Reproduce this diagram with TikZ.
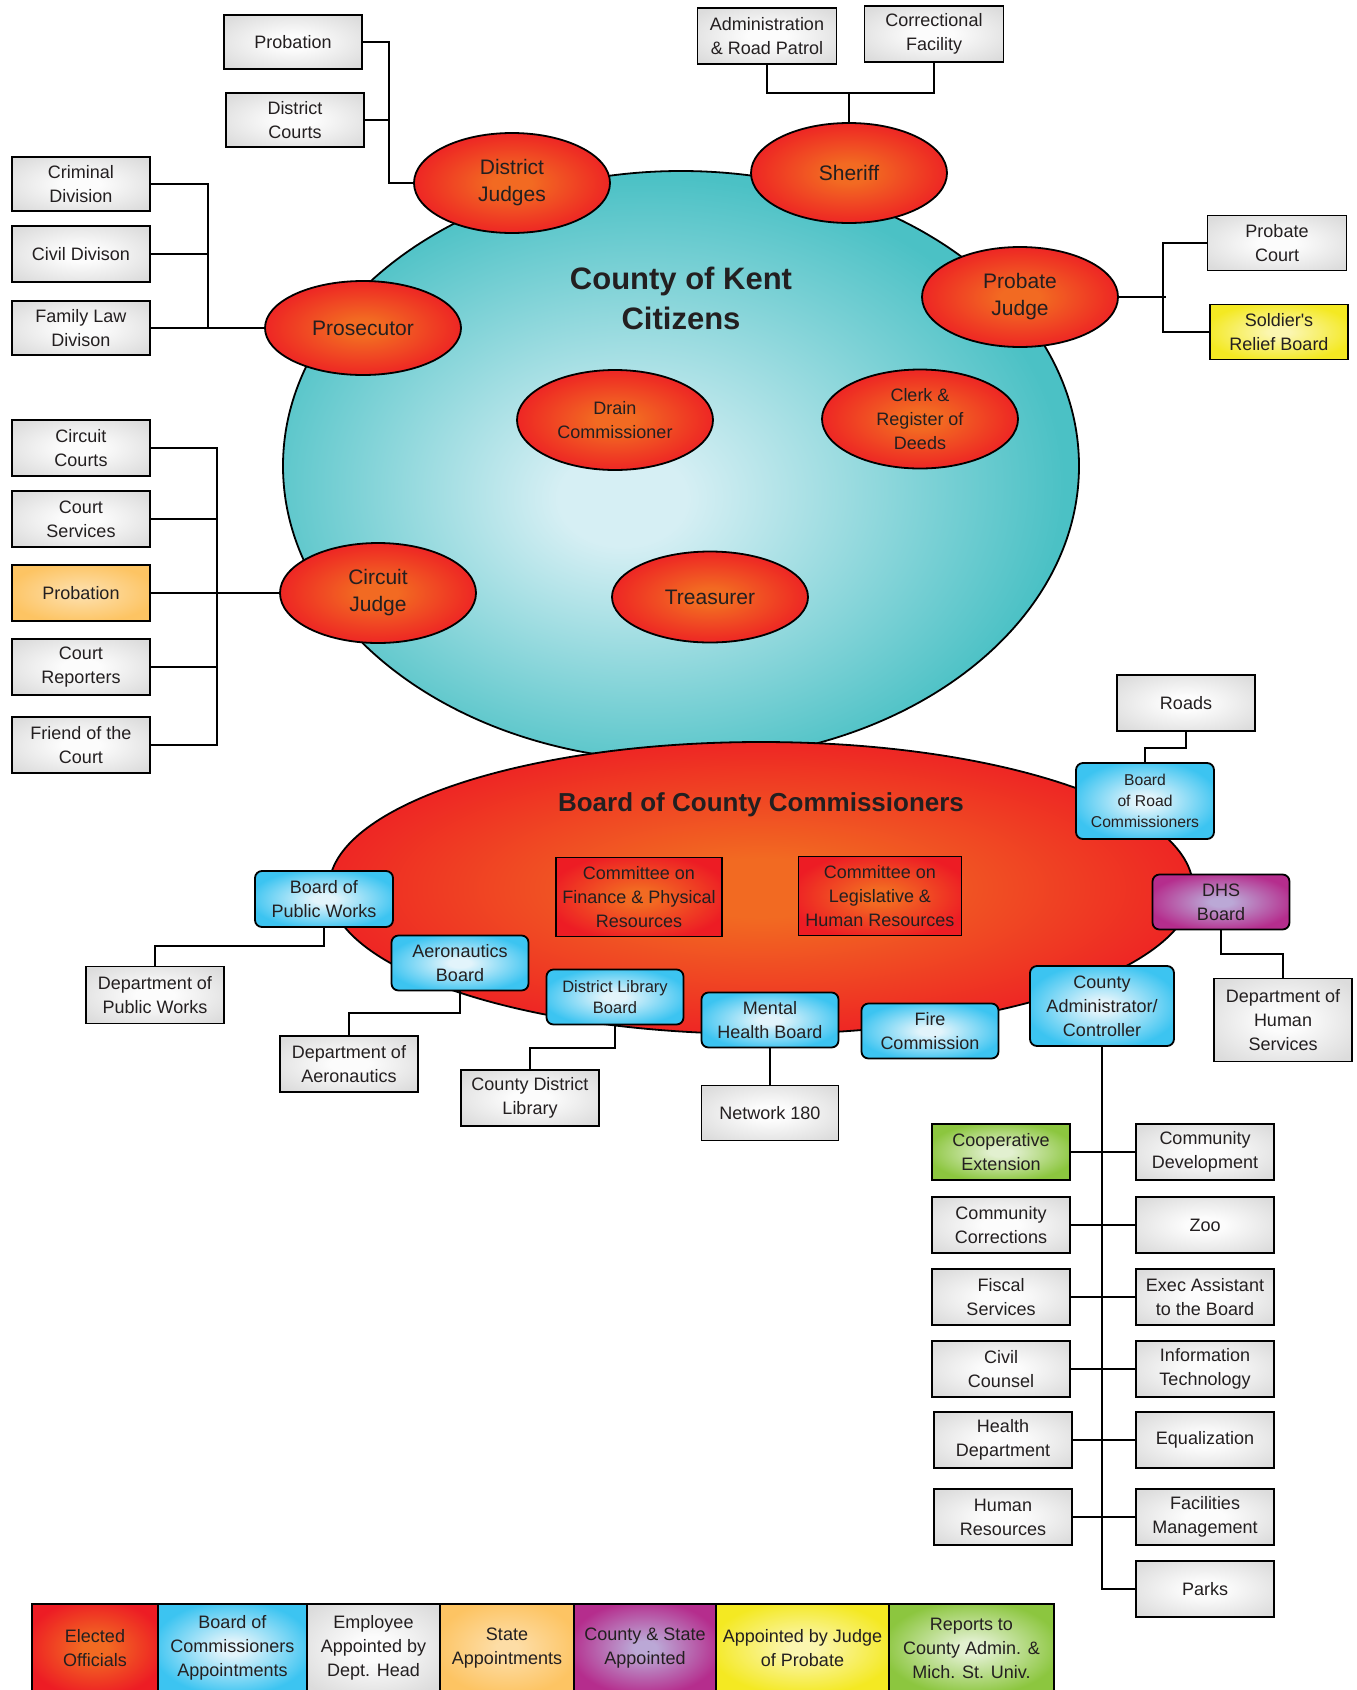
\documentclass[tikz,border=0pt]{standalone}
\usepackage{fontspec}
\setmainfont{Liberation Sans}
\usetikzlibrary{shapes.geometric}
\definecolor{txtc}{HTML}{231F20}
\definecolor{gIn}{HTML}{FCFCFC}
\definecolor{gOut}{HTML}{DCDCDC}
\definecolor{bIn}{HTML}{E2F4FB}
\definecolor{bOut}{HTML}{3CC4F1}
\definecolor{rIn}{HTML}{F26A22}
\definecolor{rOut}{HTML}{ED1C24}
\definecolor{tIn}{HTML}{D6EFF4}
\definecolor{tOut}{HTML}{4BC1C5}
\definecolor{yIn}{HTML}{FBF6B0}
\definecolor{yOut}{HTML}{F4E922}
\definecolor{grIn}{HTML}{E2F0D0}
\definecolor{grOut}{HTML}{8CC63F}
\definecolor{oIn}{HTML}{FDDDA6}
\definecolor{oOut}{HTML}{FDC463}
\definecolor{pIn}{HTML}{BBA8D6}
\definecolor{pOut}{HTML}{B52D8D}
\pgfdeclareradialshading{grsh}{\pgfpointorigin}{color(0bp)=(gIn); color(7bp)=(gIn); color(32bp)=(gOut); color(50bp)=(gOut)}
\pgfdeclareradialshading{blsh}{\pgfpointorigin}{color(0bp)=(bIn); color(4bp)=(bIn); color(27bp)=(bOut); color(50bp)=(bOut)}
\pgfdeclareradialshading{rdsh}{\pgfpointorigin}{color(0bp)=(rIn); color(5bp)=(rIn); color(28bp)=(rOut); color(50bp)=(rOut)}
\pgfdeclareradialshading{tlsh}{\pgfpoint{-4bp}{-3bp}}{color(0bp)=(tIn); color(4bp)=(tIn); color(26bp)=(tOut); color(50bp)=(tOut)}
\pgfdeclareradialshading{ylsh}{\pgfpointorigin}{color(0bp)=(yIn); color(4bp)=(yIn); color(27bp)=(yOut); color(50bp)=(yOut)}
\pgfdeclareradialshading{gnsh}{\pgfpointorigin}{color(0bp)=(grIn); color(4bp)=(grIn); color(27bp)=(grOut); color(50bp)=(grOut)}
\pgfdeclareradialshading{orsh}{\pgfpointorigin}{color(0bp)=(oIn); color(4bp)=(oIn); color(27bp)=(oOut); color(50bp)=(oOut)}
\pgfdeclareradialshading{pusp}{\pgfpointorigin}{color(0bp)=(pIn); color(4bp)=(pIn); color(27bp)=(pOut); color(50bp)=(pOut)}
\tikzset{
  txt/.style={text=txtc, align=center, font=\fontsize{18}{24}\selectfont},
  gbox/.style={txt, draw=black, line width=1.8pt, shade, shading=grsh, minimum width=138pt, minimum height=56pt, inner sep=2pt},
  ybox/.style={gbox, shading=ylsh},
  obox/.style={gbox, shading=orsh},
  gnbox/.style={gbox, shading=gnsh},
  rbox/.style={gbox, shading=rdsh},
  bbox/.style={txt, draw=black, line width=1.8pt, rounded corners=7pt, shade, shading=blsh, minimum width=137pt, minimum height=55pt, inner sep=2pt},
  pbox/.style={bbox, shading=pusp},
  rell/.style={ellipse, draw=black, line width=1.8pt, shade, shading=rdsh, minimum width=196pt, minimum height=100pt, inner sep=0pt, txt, font=\fontsize{21}{27}\selectfont},
  link/.style={line width=2pt, draw=black},
  lgd/.style={txt, draw=black, line width=1.6pt, shade, minimum height=88pt, inner sep=1pt},
}
\begin{document}
\begin{tikzpicture}[x=1pt,y=-1pt]
\useasboundingbox (0,0) rectangle (1357,1690);
\clip (0,0) rectangle (1357,1690);
% big ellipses
\node[ellipse, draw=black, line width=1.8pt, shade, shading=tlsh, minimum width=796pt, minimum height=590pt, inner sep=0pt] (citizens) at (681,466) {};
\node[txt, font=\fontsize{31}{40}\selectfont\bfseries] (ctitle) at (681,298) {County of Kent\\Citizens};
\node[ellipse, draw=black, line width=1.8pt, shade, shading=rdsh, minimum width=864pt, minimum height=292pt, inner sep=0pt] (board) at (761,888) {};
\node[txt, font=\fontsize{26}{32}\selectfont\bfseries] (btitle) at (761,805) {Board of County Commissioners};
% elected ellipses
\node[rell] (dj) at (512,183) {District\\Judges};
\node[rell, minimum height=94pt] (pros) at (363,328) {Prosecutor};
\node[rell] (sher) at (849,173) {Sheriff};
\node[rell] (pj) at (1020,297) {Probate\\Judge};
\node[rell, font=\fontsize{18}{24}\selectfont] (drain) at (615,420) {Drain\\Commissioner};
\node[rell, font=\fontsize{18}{24}\selectfont, minimum height=99pt] (clerk) at (920,419) {Clerk \&\\Register of\\Deeds};
\node[rell] (cj) at (378,593) {Circuit\\Judge};
\node[rell, minimum height=91pt] (treas) at (710,597) {Treasurer};
% gray boxes top
\node[gbox, minimum height=54pt] (prob1) at (293,42) {Probation};
\node[gbox, minimum height=54pt] (dcourts) at (295,120) {District\\Courts};
\node[gbox, minimum height=54pt] (crim) at (81,184) {Criminal\\Division};
\node[gbox] (civil) at (81,254) {Civil Divison};
\node[gbox, minimum height=54pt] (family) at (81,328) {Family Law\\Divison};
\node[gbox, minimum width=139pt] (admin) at (767,36) {Administration\\\& Road Patrol};
\node[gbox, minimum width=139pt] (corr) at (934,34) {Correctional\\Facility};
\node[gbox, minimum width=139pt, minimum height=55pt] (pcourt) at (1277,243) {Probate\\Court};
\node[ybox, minimum height=55pt] (srb) at (1279,332) {Soldier\textquotesingle s\\Relief Board};
\node[gbox] (ccourts) at (81,448) {Circuit\\Courts};
\node[gbox] (csvc) at (81,519) {Court\\Services};
\node[obox] (prob2) at (81,593) {Probation};
\node[gbox] (crep) at (81,667) {Court\\Reporters};
\node[gbox] (fotc) at (81,745) {Friend of the\\Court};
% board area
\node[rbox, minimum width=166pt, minimum height=79pt] (cfin) at (639,897) {Committee on\\Finance \& Physical\\Resources};
\node[rbox, minimum width=163pt, minimum height=79pt] (cleg) at (880,896) {Committee on\\Legislative \&\\Human Resources};
\node[bbox, minimum width=138pt, minimum height=56pt] (bpw) at (324,899) {Board of\\Public Works};
\node[bbox] (aero) at (460,963) {Aeronautics\\Board};
\node[bbox, font=\fontsize{16.5}{21.5}\selectfont] (dlb) at (615,997) {District Library\\Board};
\node[bbox] (mhb) at (770,1020) {Mental\\Health Board};
\node[bbox] (fire) at (930,1031) {Fire\\Commission};
\node[bbox, minimum width=144pt, minimum height=80pt] (ca) at (1102,1006) {County\\Administrator/\\Controller};
\node[bbox, minimum width=138pt, minimum height=76pt, font=\fontsize{15.7}{21}\selectfont] (brc) at (1145,801) {Board\\of Road\\Commissioners};
\node[pbox] (dhs) at (1221,902) {DHS\\Board};
\node[gbox] (roads) at (1186,703) {Roads};
\node[gbox, minimum height=83pt] (dhsd) at (1283,1020) {Department of\\Human\\Services};
\node[gbox, minimum height=57pt] (dpw) at (155,995) {Department of\\Public Works};
\node[gbox] (dae) at (349,1064) {Department of\\Aeronautics};
\node[gbox] (cdl) at (530,1098) {County District\\Library};
\node[gbox, minimum width=137pt, minimum height=55pt] (n180) at (770,1113) {Network 180};
% county admin columns
\node[gnbox] (coop) at (1001,1152) {Cooperative\\Extension};
\node[gbox] (ccorr) at (1001,1225) {Community\\Corrections};
\node[gbox] (fisc) at (1001,1297) {Fiscal\\Services};
\node[gbox] (civc) at (1001,1369) {Civil\\Counsel};
\node[gbox] (hdep) at (1003,1440) {Health\\Department};
\node[gbox] (hres) at (1003,1517) {Human\\Resources};
\node[gbox] (cdev) at (1205,1152) {Community\\Development};
\node[gbox] (zoo) at (1205,1225) {Zoo};
\node[gbox] (exec) at (1205,1297) {Exec Assistant\\to the Board};
\node[gbox] (itec) at (1205,1369) {Information\\Technology};
\node[gbox] (equa) at (1205,1440) {Equalization};
\node[gbox] (faci) at (1205,1517) {Facilities\\Management};
\node[gbox] (parks) at (1205,1589) {Parks};
% connectors
\draw[link] (prob1.east) -- ++(26,0) |- (dj.west);
\draw[link] (dcourts.east) -- ++(24,0);
\draw[link] (crim.east) -- ++(57,0) |- (pros.west);
\draw[link] (civil.east) -- ++(57,0);
\draw[link] (family.east) -- ++(57,0);
\coordinate (shj) at (849,92);
\draw[link] (admin.south) -- ++(0,28) -| (corr.south);
\draw[link] (sher.north) -- (shj);
\draw[link] (pj.east) -- ++(47,0);
\draw[link] (pcourt.west) -- ++(-44,0) |- (srb.west);
\draw[link] (ccourts.east) -- ++(66,0) |- (fotc.east);
\draw[link] (csvc.east) -- ++(66,0);
\draw[link] (crep.east) -- ++(66,0);
\draw[link] (prob2.east) -- (cj.west);
\draw[link] (roads.south) -- ++(0,16) -| (brc.north);
\draw[link] (dhs.south) -- ++(0,24) -| (dhsd.north);
\draw[link] (bpw.south) -- ++(0,18) -| (dpw.north);
\draw[link] (aero.south) -- ++(0,22) -| (dae.north);
\draw[link] (dlb.south) -- ++(0,23) -| (cdl.north);
\draw[link] (mhb.south) -- (n180.north);
\draw[link] (ca.south) |- (parks.west);
\draw[link] (coop.east) -- (cdev.west);
\draw[link] (ccorr.east) -- (zoo.west);
\draw[link] (fisc.east) -- (exec.west);
\draw[link] (civc.east) -- (itec.west);
\draw[link] (hdep.east) -- (equa.west);
\draw[link] (hres.east) -- (faci.west);
% legend
\node[lgd, shading=rdsh, minimum width=126pt] (l1) at (95,1648) {Elected\\Officials};
\node[lgd, shading=blsh, minimum width=149pt] (l2) at (232.5,1648) {Board of\\Commissioners\\Appointments};
\node[lgd, shading=grsh, minimum width=133pt] (l3) at (373.5,1648) {Employee\\Appointed by\\Dept. Head};
\node[lgd, shading=orsh, minimum width=134pt] (l4) at (507,1648) {State\\Appointments};
\node[lgd, shading=pusp, minimum width=142pt] (l5) at (645,1648) {County \& State\\Appointed};
\node[lgd, shading=ylsh, minimum width=173pt] (l6) at (802.5,1648) {Appointed by Judge\\of Probate};
\node[lgd, shading=gnsh, minimum width=165pt] (l7) at (971.5,1648) {Reports to\\County Admin. \&\\Mich. St. Univ.};
\end{tikzpicture}
\end{document}
